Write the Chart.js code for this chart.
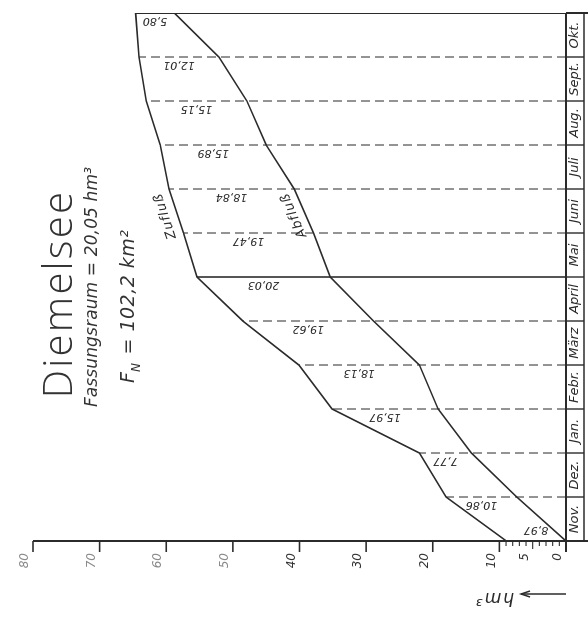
<!DOCTYPE html>
<html>
<head>
<meta charset="utf-8">
<script src="https://cdn.jsdelivr.net/npm/chart.js@4.4.1/dist/chart.umd.min.js"></script>
<style>
  html, body { margin: 0; padding: 0; background: #fff; overflow: hidden; }
  #page { position: relative; width: 588px; height: 620px; overflow: hidden; background: #fff; }
  /* the sheet is drawn upright (620 x 588) and turned a quarter to the left */
  #sheet { position: absolute; left: -16px; top: 16px; width: 620px; height: 588px;
           transform: rotate(-90deg); transform-origin: 50% 50%; }
  canvas { display: block; }
</style>
</head>
<body>
<div id="page"><div id="sheet"><canvas id="c" width="620" height="588"></canvas></div></div>
<script>
// Hydrological year, month boundaries 0 (1 Nov) .. 12 (31 Oct)
const months = ['Nov.', 'Dez.', 'Jan.', 'Febr.', 'März', 'April', 'Mai', 'Juni', 'Juli', 'Aug.', 'Sept.', 'Okt.'];
const boundaries = [0, 1, 2, 3, 4, 5, 6, 7, 8, 9, 10, 11, 12];

// Summenlinien in hm³ at each month boundary
const zufluss = [8.97, 18.0, 22.0, 35.1, 40.1, 48.5, 55.4, 57.4, 59.6, 60.9, 63.0, 64.1, 64.6];
const abfluss = [0, 7.4, 14.2, 19.2, 22.0, 28.9, 35.4, 37.9, 40.8, 45.0, 47.9, 52.1, 58.8];

// Stauinhalt (hm³) written at each boundary
const inhalt = ['8,97', '10,86', '7,77', '15,97', '18,13', '19,62', '20,03', '19,47', '18,84', '15,89', '15,15', '12,01', '5,80'];

// value-axis labels
const valueTicks = [0, 5, 10, 20, 30, 40, 50, 60, 70, 80];

const INK = '#2b2b2b';
const ITAL = "'DejaVu Sans', 'Liberation Sans', sans-serif";

const datasets = [
  { label: 'Zufluß', data: boundaries.map((k, i) => ({ x: k, y: zufluss[i] })),
    borderColor: INK, borderWidth: 1.6, pointRadius: 0, tension: 0, order: 0 },
  { label: 'Abfluß', data: boundaries.map((k, i) => ({ x: k, y: abfluss[i] })),
    borderColor: INK, borderWidth: 1.6, pointRadius: 0, tension: 0, order: 0 }
];
// month boundaries: from the inflow line down to zero; end of April and end of October solid
boundaries.slice(1).forEach(k => {
  const solid = (k === 6 || k === 12);
  datasets.push({
    label: 'b' + k,
    data: [{ x: k, y: 0 }, { x: k, y: zufluss[k] }],
    borderColor: solid ? INK : '#3c3c3c',
    borderWidth: k === 12 ? 2 : (solid ? 1.6 : 1.1),
    borderDash: solid ? [] : [9, 5],
    pointRadius: 0, order: 1
  });
});

function put(ctx, str, x, y, o) {
  ctx.save();
  ctx.translate(x, y);
  ctx.rotate(o.rot || 0);
  ctx.font = o.font;
  ctx.fillStyle = o.color || INK;
  ctx.textAlign = o.align || 'center';
  ctx.textBaseline = o.baseline || 'middle';
  if (o.width) {
    const w = ctx.measureText(str).width;
    const n = Math.max(1, [...str].length - 1);
    ctx.letterSpacing = ((o.width - w) / n).toFixed(2) + 'px';
  } else if (o.spacing) {
    ctx.letterSpacing = o.spacing + 'px';
  }
  ctx.fillText(str, 0, 0);
  ctx.restore();
}

const sheet = {
  id: 'sheet',
  afterDatasetsDraw(chart) {
    const { ctx, scales: { x, y } } = chart;
    const X = v => x.getPixelForValue(v);
    const Y = v => y.getPixelForValue(v);
    const stripTop = Y(0), stripBot = stripTop + 18, edge = chart.height;

    ctx.save();
    ctx.strokeStyle = INK;
    ctx.lineCap = 'butt';

    // value axis line, running through the month strip
    ctx.lineWidth = 2;
    ctx.beginPath(); ctx.moveTo(X(0), Y(80)); ctx.lineTo(X(0), edge); ctx.stroke();
    // zero line
    ctx.beginPath(); ctx.moveTo(X(0) - 11, Y(0)); ctx.lineTo(X(12), Y(0)); ctx.stroke();
    // end of October carried through the strip
    ctx.beginPath(); ctx.moveTo(X(12), Y(0)); ctx.lineTo(X(12), edge); ctx.stroke();
    // strip lower border and separators
    ctx.lineWidth = 1.4;
    ctx.beginPath(); ctx.moveTo(X(0), stripBot); ctx.lineTo(X(12), stripBot); ctx.stroke();
    for (let k = 1; k < 12; k++) {
      ctx.beginPath(); ctx.moveTo(X(k), stripTop); ctx.lineTo(X(k), stripBot); ctx.stroke();
    }
    // ticks on the value axis: fine division between 0 and 10
    for (let v = 1; v <= 80; v++) {
      if (v > 10 && v % 10) continue;
      const len = v % 10 === 0 ? 11 : (v === 5 ? 8 : 5);
      ctx.lineWidth = v % 10 === 0 ? 1.6 : 1.1;
      ctx.beginPath(); ctx.moveTo(X(0), Y(v)); ctx.lineTo(X(0) - len, Y(v)); ctx.stroke();
    }

    // axis title with arrow
    put(ctx, 'hm³', 23, 494, { rot: -Math.PI / 2, font: `italic 17px ${ITAL}`, spacing: 2 });
    ctx.lineWidth = 1.5;
    ctx.beginPath(); ctx.moveTo(26, 566); ctx.lineTo(26, 521); ctx.stroke();
    ctx.beginPath(); ctx.moveTo(23, 530); ctx.lineTo(26, 521); ctx.lineTo(29, 530); ctx.stroke();
    ctx.restore();

    // heading
    put(ctx, 'Diemelsee', 326, 72, { font: `300 40px 'Open Sans', 'DejaVu Sans', sans-serif`,
      baseline: 'alphabetic', width: 206, color: '#333' });
    put(ctx, 'Fassungsraum = 20,05 hm³', 333, 97, { font: `italic 17px ${ITAL}`,
      baseline: 'alphabetic', width: 240, color: '#333' });
    // F_N = 102,2 km²
    ctx.save();
    ctx.font = `italic 19px ${ITAL}`;
    ctx.fillStyle = '#333';
    ctx.textBaseline = 'alphabetic';
    let u = 237;
    ctx.fillText('F', u, 134); u += ctx.measureText('F').width;
    ctx.font = `italic 12px ${ITAL}`;
    ctx.fillText('N', u, 140); u += ctx.measureText('N').width + 2;
    ctx.font = `italic 19px ${ITAL}`;
    const rest = ' = 102,2 km²';
    const wr = ctx.measureText(rest).width;
    ctx.letterSpacing = ((390 - u - wr) / (rest.length - 1)).toFixed(2) + 'px';
    ctx.fillText(rest, u, 134);
    ctx.restore();

    // names along the two lines (segment July)
    const along = (vals, k, t, off, text) => {
      const x0 = X(k), y0 = Y(vals[k]), x1 = X(k + 1), y1 = Y(vals[k + 1]);
      const a = Math.atan2(y1 - y0, x1 - x0);
      const px = x0 + (x1 - x0) * t, py = y0 + (y1 - y0) * t;
      put(ctx, text, px + Math.sin(a) * off, py - Math.cos(a) * off,
        { rot: a, font: `italic 13px ${ITAL}`, spacing: 1 });
    };
    along(zufluss, 7, 0.47, 12, 'Zufluß');
    along(abfluss, 7, 0.5, 11, 'Abfluß');

    // storage content at every boundary
    boundaries.forEach((k, i) => {
      const cu = X(k) + (k === 0 ? 11 : -8);
      const cv = Y((zufluss[i] + abfluss[i]) / 2);
      put(ctx, inhalt[i], cu, cv, { rot: -Math.PI / 2, font: `italic 11px ${ITAL}` });
    });
  }
};

new Chart(document.getElementById('c'), {
  type: 'line',
  data: { datasets },
  options: {
    responsive: false,
    animation: false,
    devicePixelRatio: 1,
    layout: { padding: { left: 0, right: 13, top: 33, bottom: 0 } },
    plugins: { legend: { display: false }, title: { display: false }, tooltip: { enabled: false } },
    scales: {
      x: {
        type: 'linear', min: 0, max: 12,
        afterBuildTicks: s => { s.ticks = months.map((m, i) => ({ value: i + 0.5 })); },
        afterFit: s => { s.height = 22; },
        ticks: { autoSkip: false, maxRotation: 0, minRotation: 0, padding: 1,
                 callback: (v, i) => months[i],
                 font: { family: ITAL, size: 13, style: 'italic' }, color: INK },
        grid: { display: false, drawTicks: false },
        border: { display: false }
      },
      y: {
        type: 'linear', min: 0, max: 80,
        afterBuildTicks: s => { s.ticks = valueTicks.map(v => ({ value: v })); },
        afterFit: s => { s.width = 79; },
        ticks: { autoSkip: false, padding: 1, labelOffset: -8,
                 callback: v => String(v),
                 font: { family: ITAL, size: 12, style: 'italic' },
                 color: c => (c.tick && c.tick.value >= 50) ? '#8a8a8a' : '#333' },
        grid: { display: false, drawTicks: true, tickLength: 11 },
        border: { display: false }
      }
    }
  },
  plugins: [sheet]
});
</script>
</body>
</html>
